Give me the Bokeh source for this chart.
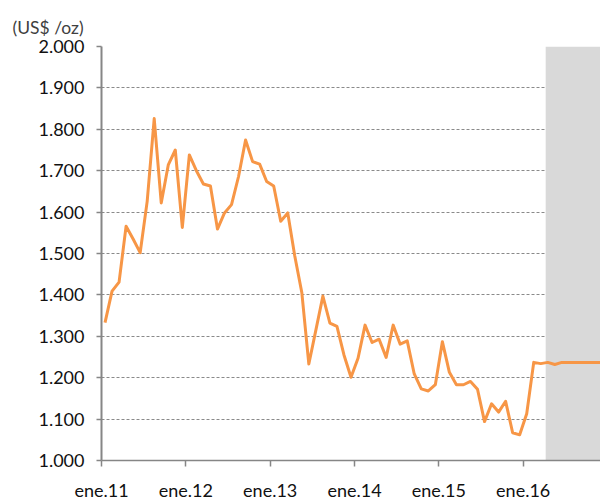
from bokeh.plotting import figure
from bokeh.models import Range1d, FixedTicker, Title, ColumnDataSource
from bokeh.embed import file_html
from bokeh.resources import INLINE

# ---- data ----
unit_label = "(US$ /oz)"
x_tick_months = [0, 12, 24, 36, 48, 60]
x_tick_labels = ["ene.11", "ene.12", "ene.13", "ene.14", "ene.15", "ene.16"]
y_ticks = [1000, 1100, 1200, 1300, 1400, 1500, 1600, 1700, 1800, 1900, 2000]
y_tick_labels = ["1.000", "1.100", "1.200", "1.300", "1.400", "1.500",
                 "1.600", "1.700", "1.800", "1.900", "2.000"]

# monthly gold price, ene.11 .. dic.16 (US$/oz)
gold_price = [1333, 1409, 1431, 1566, 1535, 1502, 1626, 1826, 1622, 1714, 1750, 1563,
              1738, 1700, 1668, 1663, 1559, 1598, 1618, 1686, 1774, 1722, 1716, 1674,
              1663, 1578, 1598, 1494, 1406, 1233, 1315, 1397, 1332, 1324, 1255, 1201,
              1247, 1327, 1285, 1293, 1249, 1327, 1281, 1289, 1209, 1173, 1168, 1183,
              1287, 1213, 1183, 1183, 1191, 1172, 1094, 1137, 1117, 1143, 1067, 1062,
              1113, 1237, 1234, 1237, 1232, 1237, 1237, 1237, 1237, 1237, 1237, 1237]

forecast_start = 63.2   # month index where the projection (shaded) period begins
axis_end = 71           # month index at the right edge of the chart

months = [i + 0.5 for i in range(len(gold_price))]

W, H = 600, 503
p = figure(width=W, height=H, output_backend="svg", toolbar_location=None,
           x_range=Range1d(0, axis_end), y_range=Range1d(y_ticks[0], y_ticks[-1]),
           min_border_left=101, min_border_right=0, min_border_top=46, min_border_bottom=41)
p.outline_line_color = None
p.background_fill_color = "white"
p.border_fill_color = "white"

# shaded projection period
p.quad(left=[forecast_start], right=[axis_end], bottom=[y_ticks[0]], top=[y_ticks[-1]],
       fill_color="#d9d9d9", line_color=None)

src = ColumnDataSource(dict(x=months, y=gold_price))
p.line("x", "y", source=src, line_color="#f79646", line_width=3, line_join="round")

# axes
p.xaxis.ticker = FixedTicker(ticks=x_tick_months)
p.xaxis.major_label_overrides = {m: l for m, l in zip(x_tick_months, x_tick_labels)}
p.yaxis.ticker = FixedTicker(ticks=y_ticks)
p.yaxis.major_label_overrides = {t: l for t, l in zip(y_ticks, y_tick_labels)}

for ax in (p.xaxis[0], p.yaxis[0]):
    ax.axis_line_color = "#868686"
    ax.major_tick_line_color = "#868686"
    ax.major_tick_line_width = 1.5
    ax.minor_tick_line_color = None
    ax.major_tick_in = 0
    ax.major_label_text_font = "Lato"
    ax.major_label_text_font_size = "18px"
    ax.major_label_text_color = "#111111"
p.xaxis.axis_line_width = 1.5
p.yaxis.axis_line_width = 2
p.xaxis.major_tick_out = 6
p.yaxis.major_tick_out = 5
p.xaxis.major_label_standoff = 12
p.yaxis.major_label_standoff = 12

p.xgrid.grid_line_color = None
p.ygrid.grid_line_color = "#8a8a8a"
p.ygrid.grid_line_dash = "3 2"
p.ygrid.grid_line_width = 1

p.add_layout(Title(text=unit_label, align="left", offset=-89, standoff=18,
                   text_font="Lato", text_font_size="17.5px", text_font_style="normal",
                   text_color="#404040"), "above")

open("out.html", "w").write(file_html(p, INLINE))
